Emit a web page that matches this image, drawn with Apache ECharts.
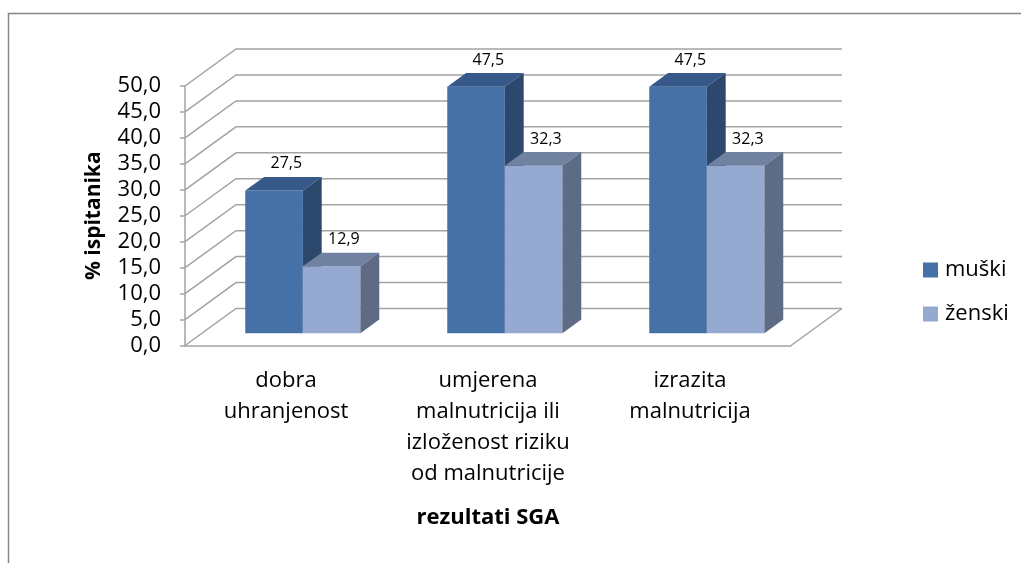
<!DOCTYPE html>
<html>
<head>
<meta charset="utf-8">
<script src="https://cdn.jsdelivr.net/npm/echarts@6/dist/echarts.min.js"></script>
<style>
html,body{margin:0;padding:0;background:#fff;}
#main{width:1021px;height:563px;}
</style>
</head>
<body>
<div id="main"></div>
<script>
// ---- data ----
var categories = ['dobra\nuhranjenost', 'umjerena\nmalnutricija ili\nizloženost riziku\nod malnutricije', 'izrazita\nmalnutricija'];
var seriesNames = ['muški', 'ženski'];
var muski = [27.5, 47.5, 47.5];
var zenski = [12.9, 32.3, 32.3];
var yTicks = [0, 5, 10, 15, 20, 25, 30, 35, 40, 45, 50];

// ---- styling / 3D geometry (not data) ----
var FONT = '"Open Sans", "Noto Sans", sans-serif';
var DX = 51, DY = -37;          // full floor depth offset
var F1 = 0.33, F2 = 0.70;       // bar depth range (fraction of floor depth)
var BAR_W = 0.285;              // bar width as fraction of category band
var GRID_COLOR = '#a3a3a3';
var palette = [
  {front: '#4571a7', top: '#36598a', side: '#2d486d'},
  {front: '#96a9d0', top: '#7181a0', side: '#5e6b85'}
];

function fmt(v) { return v.toFixed(1).replace('.', ','); }

var chart = echarts.init(document.getElementById('main'), null, {renderer: 'canvas'});

function wallRender(params, api) {
  var cs = params.coordSys;
  var v = api.value(1);
  var y = api.coord([0, v])[1];
  var children = [{
    type: 'polyline',
    shape: {points: [[cs.x, y], [cs.x + DX, y + DY], [cs.x + cs.width + DX, y + DY]]},
    style: {stroke: GRID_COLOR, lineWidth: 1.5, fill: null},
    silent: true
  }];
  if (v === 0) {
    children.push({
      type: 'line',
      shape: {x1: cs.x + cs.width, y1: y, x2: cs.x + cs.width + DX, y2: y + DY},
      style: {stroke: GRID_COLOR, lineWidth: 1.5},
      silent: true
    });
  }
  return {type: 'group', children: children};
}

function barRender(sIdx) {
  return function (params, api) {
    var idx = api.value(0);
    var val = api.value(1);
    var c = api.coord([idx, val]);
    var base = api.coord([idx, 0]);
    var band = api.size([1, 0])[0];
    var bw = band * BAR_W;
    var ox = DX * F1, oy = DY * F1;
    var ddx = DX * (F2 - F1), ddy = DY * (F2 - F1);
    var cx = c[0] + ox;
    var x1 = sIdx === 0 ? cx - bw : cx;
    var x2 = x1 + bw;
    var yt = c[1] + oy;
    var yb = base[1] + oy;
    var col = palette[sIdx];
    return {
      type: 'group',
      children: [
        {type: 'rect', shape: {x: x1, y: yt, width: bw, height: yb - yt}, style: {fill: col.front}},
        {type: 'polygon', shape: {points: [[x1, yt], [x2, yt], [x2 + ddx, yt + ddy], [x1 + ddx, yt + ddy]]}, style: {fill: col.top}},
        {type: 'polygon', shape: {points: [[x2, yt], [x2 + ddx, yt + ddy], [x2 + ddx, yb + ddy], [x2, yb]]}, style: {fill: col.side}},
        {type: 'text', style: {
          text: fmt(val), x: (x1 + x2) / 2 + ddx * 0.65, y: yt + ddy - 13,
          align: 'center', verticalAlign: 'middle',
          font: '16px ' + FONT, fill: '#000'
        }}
      ]
    };
  };
}

var option = {
  backgroundColor: '#fff',
  animation: false,
  graphic: [{
    type: 'rect',
    shape: {x: 8.5, y: 13.5, width: 1030, height: 600},
    style: {fill: null, stroke: '#868686', lineWidth: 1.5},
    silent: true,
    z: -10
  }],
  legend: {
    orient: 'vertical',
    left: 918,
    top: 254,
    itemWidth: 15,
    itemHeight: 15,
    itemGap: 22,
    icon: 'rect',
    data: seriesNames,
    textStyle: {fontFamily: FONT, fontSize: 22, color: '#000', padding: [0, 0, 0, 2]}
  },
  grid: {left: 185, right: 230, top: 86, bottom: 217.5, containLabel: false},
  xAxis: {
    type: 'category',
    data: categories,
    name: 'rezultati SGA',
    nameLocation: 'middle',
    nameGap: 161,
    nameTextStyle: {fontFamily: FONT, fontSize: 22, fontWeight: 'bold', color: '#000', verticalAlign: 'top'},
    axisLine: {show: true, lineStyle: {color: GRID_COLOR, width: 1.5}},
    axisTick: {show: false},
    splitLine: {show: false},
    axisLabel: {fontFamily: FONT, fontSize: 22, color: '#000', lineHeight: 31, margin: 20, interval: 0}
  },
  yAxis: {
    type: 'value',
    min: 0, max: 50, interval: 5,
    name: '% ispitanika',
    nameLocation: 'middle',
    nameGap: 80,
    nameRotate: 90,
    nameTextStyle: {fontFamily: FONT, fontSize: 21, fontWeight: 'bold', color: '#000'},
    axisLine: {show: true, lineStyle: {color: GRID_COLOR, width: 1.5}},
    axisTick: {show: true, length: 5, lineStyle: {color: GRID_COLOR, width: 1.5}},
    splitLine: {show: false},
    axisLabel: {fontFamily: FONT, fontSize: 22, color: '#000', margin: 24, formatter: function (v) { return fmt(v); }}
  },
  series: [
    {
      type: 'custom', name: 'walls', renderItem: wallRender,
      data: yTicks.map(function (v) { return [0, v]; }),
      silent: true, z: 1
    },
    {
      type: 'custom', name: seriesNames[0], renderItem: barRender(0),
      itemStyle: {color: palette[0].front},
      data: muski.map(function (v, i) { return [i, v]; }), z: 2
    },
    {
      type: 'custom', name: seriesNames[1], renderItem: barRender(1),
      itemStyle: {color: palette[1].front},
      data: zenski.map(function (v, i) { return [i, v]; }), z: 2
    }
  ]
};
chart.setOption(option);
</script>
</body>
</html>
